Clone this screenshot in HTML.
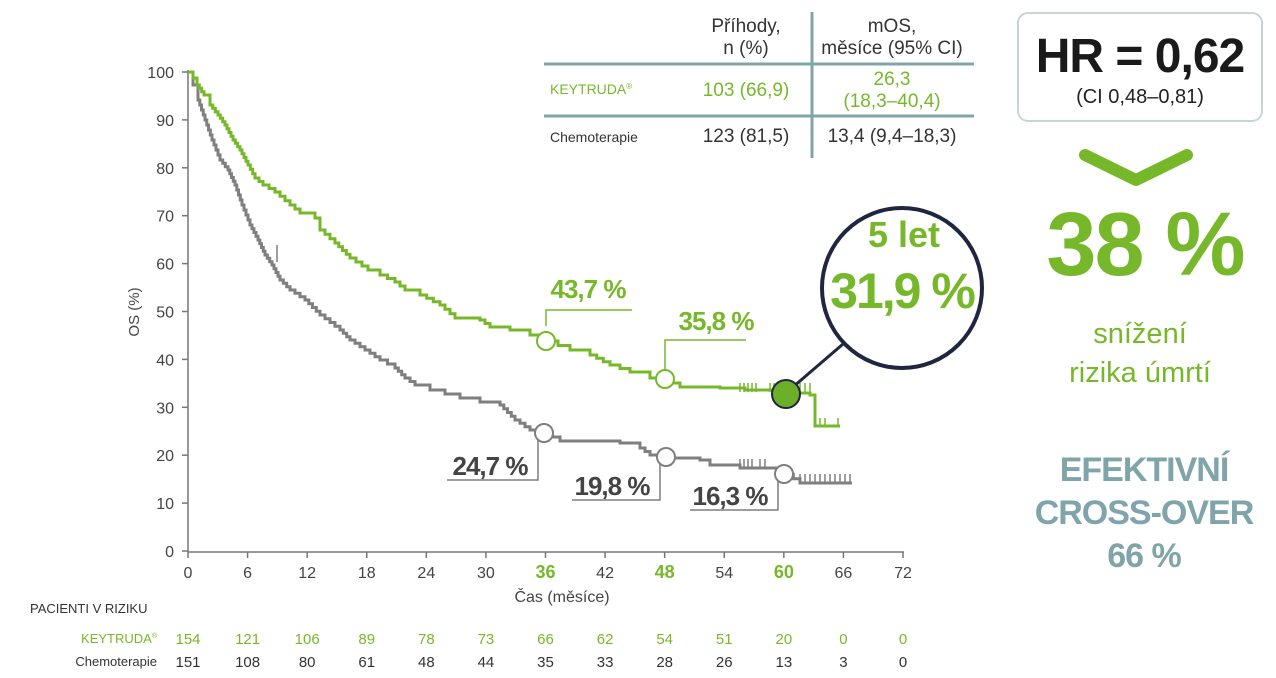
<!DOCTYPE html>
<html><head><meta charset="utf-8"><style>
html,body{margin:0;padding:0;background:#fff;}
svg{display:block;font-family:"Liberation Sans",sans-serif;}
</style></head><body>
<svg id="s" width="1276" height="678" viewBox="0 0 1276 678" xmlns="http://www.w3.org/2000/svg">
<g stroke="#777" stroke-width="1.5" fill="none">
<line x1="188" y1="70" x2="188" y2="552"/>
<line x1="188" y1="552" x2="904" y2="552"/>
</g>
<g id="ticks" stroke="#777" stroke-width="1.5"></g>
<g font-size="16" fill="#444" text-anchor="end" id="ylab"></g>
<g font-size="16" fill="#444" text-anchor="middle" id="xlab"></g>
<text x="139" y="312" font-size="15" fill="#444" text-anchor="middle" transform="rotate(-90 139 312)">OS (%)</text>
<text x="562" y="602" font-size="16" fill="#444" text-anchor="middle">Čas (měsíce)</text>

<path id="gray" fill="none" stroke="#7f7f7f" stroke-width="3"/>
<path id="green" fill="none" stroke="#77b82a" stroke-width="3"/>
<g id="cens" stroke-width="1.5"></g>

<g fill="none" stroke-width="1.5">
<polyline points="546,326 546,310 632,310" stroke="#77b82a"/>
<polyline points="665,370 665,340 746,340" stroke="#77b82a"/>
<polyline points="538,440 538,480 447,480" stroke="#7f7f7f"/>
<polyline points="660,462 660,500 572,500" stroke="#7f7f7f"/>
<polyline points="778,478 778,510 690,510" stroke="#7f7f7f"/>
</g>
<g fill="#fff" stroke-width="2">
<circle cx="546" cy="341" r="9" stroke="#77b82a"/>
<circle cx="665" cy="379" r="9" stroke="#77b82a"/>
<circle cx="544" cy="433" r="9" stroke="#7f7f7f"/>
<circle cx="666" cy="457" r="9" stroke="#7f7f7f"/>
<circle cx="784" cy="474" r="9" stroke="#7f7f7f"/>
</g>
<line x1="786" y1="393" x2="850" y2="338" stroke="#1e2640" stroke-width="3"/>
<circle cx="786" cy="394" r="14" fill="#6cb02a" stroke="#1e2640" stroke-width="2"/>
<circle cx="902" cy="288" r="80" fill="#fff" stroke="#1e2640" stroke-width="4"/>
<text x="904" y="247" font-size="36" font-weight="bold" fill="#77b82a" text-anchor="middle">5 let</text>
<text x="902" y="308" font-size="50" font-weight="bold" fill="#77b82a" text-anchor="middle" letter-spacing="-2">31,9 %</text>

<g font-size="26" font-weight="bold" letter-spacing="-1">
<text x="588" y="298" fill="#77b82a" text-anchor="middle">43,7 %</text>
<text x="716" y="330" fill="#77b82a" text-anchor="middle">35,8 %</text>
<text x="490" y="475" fill="#444" text-anchor="middle">24,7 %</text>
<text x="612" y="495" fill="#444" text-anchor="middle">19,8 %</text>
<text x="730" y="505" fill="#444" text-anchor="middle">16,3 %</text>
</g>

<g stroke="#7fa4aa" stroke-width="3">
<line x1="544" y1="64" x2="974" y2="64"/>
<line x1="544" y1="116" x2="974" y2="116"/>
<line x1="812" y1="12" x2="812" y2="158"/>
</g>
<g font-size="19" text-anchor="middle">
<text x="746" y="32" fill="#333">Příhody,</text>
<text x="746" y="54" fill="#333">n (%)</text>
<text x="892" y="32" fill="#333">mOS,</text>
<text x="892" y="54" fill="#333">měsíce (95% CI)</text>
<text x="746" y="96" fill="#77b82a">103 (66,9)</text>
<text x="892" y="85" fill="#77b82a">26,3</text>
<text x="892" y="107" fill="#77b82a">(18,3–40,4)</text>
<text x="746" y="142" fill="#333">123 (81,5)</text>
<text x="892" y="142" fill="#333">13,4 (9,4–18,3)</text>
</g>
<text x="550" y="94" font-size="14" fill="#77b82a">KEYTRUDA<tspan font-size="8" dy="-5">®</tspan></text>
<text x="550" y="142" font-size="14" fill="#333">Chemoterapie</text>

<rect x="1018" y="13" width="244" height="108" rx="10" fill="#fff" stroke="#c8d4d6" stroke-width="2"/>
<text x="1140" y="72" font-size="48" font-weight="bold" fill="#1a1a1a" text-anchor="middle" letter-spacing="-1">HR = 0,62</text>
<text x="1140" y="103" font-size="20" fill="#222" text-anchor="middle">(CI 0,48–0,81)</text>
<polyline points="1085,155 1136,180 1187,155" fill="none" stroke="#77b82a" stroke-width="12" stroke-linecap="round" stroke-linejoin="round"/>
<text x="1145" y="275" font-size="90" font-weight="bold" fill="#77b82a" text-anchor="middle" letter-spacing="-2">38 %</text>
<text x="1140" y="343" font-size="29" fill="#77b82a" text-anchor="middle">snížení</text>
<text x="1140" y="382" font-size="29" fill="#77b82a" text-anchor="middle">rizika úmrtí</text>
<g font-size="34" font-weight="bold" fill="#7fa4aa" text-anchor="middle" letter-spacing="-1">
<text x="1144" y="481">EFEKTIVNÍ</text>
<text x="1144" y="524">CROSS-OVER</text>
<text x="1144" y="567">66 %</text>
</g>

<text x="30" y="613" font-size="13" fill="#333">PACIENTI V RIZIKU</text>
<text x="157" y="643" font-size="13" fill="#77b82a" text-anchor="end">KEYTRUDA<tspan font-size="7" dy="-5">®</tspan></text>
<text x="157" y="666" font-size="13" fill="#333" text-anchor="end">Chemoterapie</text>
<g id="risk" font-size="15" text-anchor="middle"></g>
</svg>
<script>
var NS="http://www.w3.org/2000/svg";
function el(p,t,a,txt){var e=document.createElementNS(NS,t);for(var k in a)e.setAttribute(k,a[k]);if(txt!=null)e.textContent=txt;document.getElementById(p).appendChild(e);return e;}
function X(m){return 188+m*715/72;}function Y(v){return 551-v*4.79;}
for(var v=0;v<=100;v+=10){el("ticks","line",{x1:182,x2:188,y1:Y(v),y2:Y(v)});el("ylab","text",{x:174,y:Y(v)+6},v);}
for(var m=0;m<=72;m+=6){el("ticks","line",{x1:X(m),x2:X(m),y1:552,y2:558});
 var g=(m==36||m==48||m==60);el("xlab","text",{x:X(m),y:578,fill:g?"#77b82a":"#444","font-weight":g?"bold":"normal","font-size":g?18:16},m);}
var k=[154,121,106,89,78,73,66,62,54,51,20,0,0],c=[151,108,80,61,48,44,35,33,28,26,13,3,0];
for(var i=0;i<13;i++){el("risk","text",{x:X(i*6),y:644,fill:"#77b82a"},k[i]);el("risk","text",{x:X(i*6),y:667,fill:"#333"},c[i]);}
function step(pts){var d="M"+pts[0][0]+","+pts[0][1];
 for(var i=1;i<pts.length;i++){var a=pts[i-1],b=pts[i];var dy=b[1]-a[1],dx=b[0]-a[0];
  var n=(dy>6&&dx>6)?Math.min(4,Math.round(dy/4)):1;
  for(var j=1;j<=n;j++){d+=" H"+(a[0]+dx*j/n).toFixed(1)+" V"+(a[1]+dy*j/n).toFixed(1);}}
 return d;}
var gr=[[188,72],[193,78],[197,85],[204,95],[210,105],[218,115],[225,125],[233,140],[240,150],[248,165],[255,178],[263,185],[275,192],[290,205],[300,213],[315,218],[320,230],[335,243],[350,258],[368,270],[380,275],[395,282],[405,290],[420,295],[440,305],[455,318],[480,320],[490,327],[510,330],[530,335],[546,341],[570,350],[590,355],[610,365],[630,372],[650,378],[665,379],[680,387],[720,388],[745,390],[785,393],[810,395],[815,400],[815,426],[840,426]];
var gy=[[188,72],[193,85],[198,100],[205,120],[212,140],[220,160],[228,170],[235,185],[242,205],[250,225],[258,240],[265,255],[272,265],[280,280],[290,290],[305,300],[320,315],[340,330],[350,340],[365,350],[380,360],[395,368],[405,378],[415,385],[430,390],[460,398],[480,402],[500,405],[515,420],[530,430],[545,433],[560,441],[620,443],[640,448],[650,455],[665,458],[700,460],[710,465],[740,468],[780,470],[800,483],[852,483]];
document.getElementById("green").setAttribute("d",step(gr));
document.getElementById("gray").setAttribute("d",step(gy));
[740,744,748,752,756,770,774,778,800,805,810].forEach(function(x){el("cens","line",{x1:x,x2:x,y1:383,y2:392,stroke:"#77b82a"});});
[820,825,838].forEach(function(x){el("cens","line",{x1:x,x2:x,y1:418,y2:426,stroke:"#77b82a"});});
[740,744,748,752,760,765,800,805,810,815,820,825,830,835,840,845,850].forEach(function(x){var y=x<790?468:483;el("cens","line",{x1:x,x2:x,y1:y-9,y2:y,stroke:"#7f7f7f"});});
el("cens","line",{x1:277,x2:277,y1:245,y2:262,stroke:"#7f7f7f"});
</script>
</body></html>
